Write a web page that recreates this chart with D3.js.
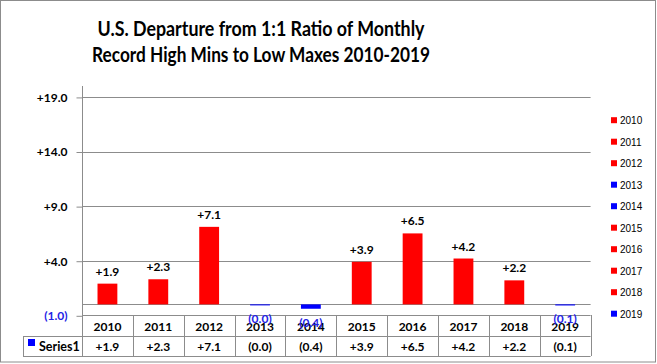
<!DOCTYPE html>
<html>
<head>
<meta charset="utf-8">
<script src="https://cdn.jsdelivr.net/npm/d3@7"></script>
<style>
  body { margin: 0; background: #fff; }
  svg text { font-family: Lato, "Liberation Sans", sans-serif; }
</style>
</head>
<body>
<div id="chart"></div>
<script>
var years = ['2010', '2011', '2012', '2013', '2014', '2015', '2016', '2017', '2018', '2019'];
var values = [1.9, 2.3, 7.1, -0.04, -0.4, 3.9, 6.5, 4.2, 2.2, -0.1];
var yTicks = [-1, 4, 9, 14, 19];
var titleLines = ['U.S. Departure from 1:1 Ratio of Monthly', 'Record High Mins to Low Maxes 2010-2019'];
var seriesName = 'Series1';

var width = 657, height = 364;
var plot = { left: 82, right: 590.6, top: 86, bottom: 315.3 };
var tableBottom = 356;
var rowSplit = 336;

var colours = {
    pos: '#ff0000',
    neg: '#0000ff',
    negText: '#2323e6',
    grid: '#8c8c8c',
    border: '#8c8c8c'
};

// + for positive, brackets for negative
function fmt(v) {
    var s = Math.abs(v).toFixed(1);
    return v < 0 ? '(' + s + ')' : '+' + s;
}

var svg = d3.select('#chart').append('svg')
    .attr('width', width)
    .attr('height', height);

// chart frame
svg.append('rect')
    .attr('x', 0.5).attr('y', 0.5)
    .attr('width', width - 2).attr('height', height - 2.5)
    .attr('fill', '#fff')
    .attr('stroke', colours.border);

// title
svg.selectAll('.title')
    .data(titleLines)
    .enter().append('text')
    .attr('class', 'title')
    .attr('x', 261)
    .attr('y', function(d, i) { return 36 + i * 26; })
    .attr('text-anchor', 'middle')
    .attr('textLength', function(d, i) { return i === 0 ? 327 : 338; })
    .attr('lengthAdjust', 'spacingAndGlyphs')
    .style('font-size', '20px')
    .style('font-weight', 'bold')
    .text(function(d) { return d; });

var x = d3.scaleBand()
    .domain(years)
    .range([plot.left, plot.right])
    .padding(0);

var y = d3.scaleLinear()
    .domain([-1, 20])
    .range([plot.bottom, plot.top]);

// gridlines
svg.append('g')
    .selectAll('line')
    .data(yTicks.filter(function(d) { return d > -1; }))
    .enter().append('line')
    .attr('x1', plot.left).attr('x2', plot.right)
    .attr('y1', function(d) { return Math.round(y(d)) + 0.5; })
    .attr('y2', function(d) { return Math.round(y(d)) + 0.5; })
    .attr('stroke', colours.grid);

// y axis
var yAxis = svg.append('g')
    .attr('transform', 'translate(' + (plot.left + 0.5) + ',0.5)')
    .call(d3.axisLeft(y).tickValues(yTicks).tickSize(6).tickPadding(9).tickFormat(fmt));
yAxis.select('.domain').remove();
yAxis.selectAll('.tick line').attr('stroke', colours.grid);
yAxis.selectAll('.tick text')
    .style('font-size', '12px')
    .style('font-weight', 'bold')
    .attr('fill', function(d) { return d < 0 ? colours.negText : '#000'; });

// vertical axis line, runs down through the table
svg.append('line')
    .attr('x1', plot.left + 0.5).attr('x2', plot.left + 0.5)
    .attr('y1', plot.top).attr('y2', tableBottom)
    .attr('stroke', colours.grid);

// zero line
svg.append('line')
    .attr('x1', plot.left).attr('x2', plot.right)
    .attr('y1', Math.round(y(0)) + 0.5).attr('y2', Math.round(y(0)) + 0.5)
    .attr('stroke', colours.grid);

// bars
var barW = x.bandwidth() * 0.39;
svg.append('g')
    .selectAll('rect')
    .data(values)
    .enter().append('rect')
    .attr('x', function(d, i) { return x(years[i]) + (x.bandwidth() - barW) / 2; })
    .attr('y', function(d) { return y(Math.max(0, d)); })
    .attr('width', barW)
    .attr('height', function(d) { return Math.max(1, Math.abs(y(d) - y(0))); })
    .attr('fill', function(d) { return d < 0 ? colours.neg : colours.pos; });

// table grid
var table = svg.append('g').attr('stroke', colours.grid).attr('fill', 'none');
table.append('line')
    .attr('x1', plot.left).attr('x2', plot.right)
    .attr('y1', Math.round(plot.bottom) + 0.5).attr('y2', Math.round(plot.bottom) + 0.5);
table.append('line')
    .attr('x1', 23).attr('x2', plot.right)
    .attr('y1', rowSplit + 0.5).attr('y2', rowSplit + 0.5);
table.append('line')
    .attr('x1', 23).attr('x2', plot.right)
    .attr('y1', tableBottom + 0.5).attr('y2', tableBottom + 0.5);
table.append('line')
    .attr('x1', 23.5).attr('x2', 23.5)
    .attr('y1', rowSplit).attr('y2', tableBottom);
table.selectAll('.sep')
    .data(years)
    .enter().append('line')
    .attr('class', 'sep')
    .attr('x1', function(d) { return Math.round(x(d) + x.bandwidth()) + 0.5; })
    .attr('x2', function(d) { return Math.round(x(d) + x.bandwidth()) + 0.5; })
    .attr('y1', Math.round(plot.bottom)).attr('y2', tableBottom);

// category row
svg.append('g')
    .selectAll('text')
    .data(years)
    .enter().append('text')
    .attr('x', function(d) { return x(d) + x.bandwidth() / 2; })
    .attr('y', 330.5)
    .attr('text-anchor', 'middle')
    .style('font-size', '12px')
    .style('font-weight', 'bold')
    .text(function(d) { return d; });

// values row
svg.append('g')
    .selectAll('text')
    .data(values)
    .enter().append('text')
    .attr('x', function(d, i) { return x(years[i]) + x.bandwidth() / 2; })
    .attr('y', 351)
    .attr('text-anchor', 'middle')
    .style('font-size', '12px')
    .style('font-weight', 'bold')
    .text(fmt);

// series key in table
svg.append('rect')
    .attr('x', 28).attr('y', 339)
    .attr('width', 7).attr('height', 7)
    .attr('fill', colours.neg);
svg.append('text')
    .attr('x', 39).attr('y', 351)
    .style('font-size', '12.5px')
    .style('font-weight', 'bold')
    .text(seriesName);

// data labels
svg.append('g')
    .selectAll('text')
    .data(values)
    .enter().append('text')
    .attr('x', function(d, i) { return x(years[i]) + x.bandwidth() / 2; })
    .attr('y', function(d) { return d < 0 ? y(d) + 18 : y(d) - 8; })
    .attr('text-anchor', 'middle')
    .style('font-size', '12px')
    .style('font-weight', 'bold')
    .attr('fill', function(d) { return d < 0 ? colours.negText : '#000'; })
    .text(fmt);

// legend on the right
var legend = svg.append('g')
    .selectAll('g')
    .data(years)
    .enter().append('g')
    .attr('transform', function(d, i) { return 'translate(611,' + (120.7 + i * 21.5) + ')'; });
legend.append('rect')
    .attr('x', 0).attr('y', -3.5)
    .attr('width', 6).attr('height', 6)
    .attr('fill', function(d, i) { return values[i] < 0 ? colours.neg : colours.pos; });
legend.append('text')
    .attr('x', 9).attr('y', 3.5)
    .style('font-size', '10px')
    .style('font-family', '"Liberation Sans", sans-serif')
    .text(function(d) { return d; });
</script>
</body>
</html>
